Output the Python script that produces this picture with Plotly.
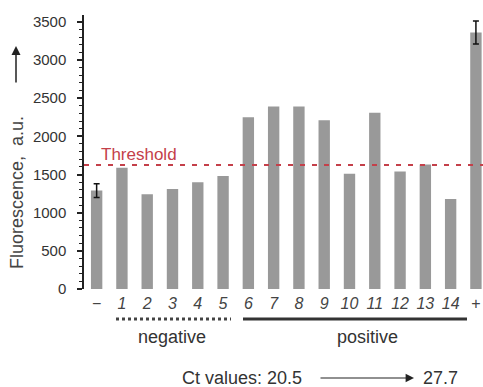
import plotly.graph_objects as go

categories = ["−", "1", "2", "3", "4", "5", "6", "7", "8", "9", "10", "11", "12", "13", "14", "+"]
values = [1290, 1590, 1240, 1310, 1400, 1480, 2250, 2390, 2390, 2210, 1510, 2310, 1540, 1630, 1180, 3360]
errors = [90, None, None, None, None, None, None, None, None, None, None, None, None, None, None, 150]
threshold = 1625
y_ticks = [0, 500, 1000, 1500, 2000, 2500, 3000, 3500]

W, H = 483, 387
# plot area in window pixels
X0, X1, Y0, Y1 = 84, 483, 15, 289
L, R, T, B = X0, W - X1, Y0, H - Y1
PW, PH = X1 - X0, Y1 - Y0

def px(x):
    return (x - X0) / PW

def py(y):
    return (Y1 - y) / PH

font = "Liberation Sans, Arial, sans-serif"
idx = list(range(len(categories)))

fig = go.Figure()
fig.add_trace(go.Bar(
    x=idx, y=values, width=0.45,
    marker=dict(color="#999999", line=dict(width=0)),
    showlegend=False, hoverinfo="skip",
))
err_i = [i for i, e in enumerate(errors) if e is not None]
fig.add_trace(go.Scatter(
    x=err_i, y=[values[i] for i in err_i], mode="markers",
    marker=dict(size=1, color="rgba(0,0,0,0)"),
    error_y=dict(type="data", array=[errors[i] for i in err_i], visible=True,
                 color="#111111", thickness=1.5, width=3),
    showlegend=False,
))
fig.add_shape(type="line", xref="paper", yref="y", x0=0, x1=1, y0=threshold, y1=threshold,
              line=dict(color="#c4404a", width=2, dash="5px,7px"))
fig.add_annotation(xref="paper", yref="y", x=px(99), y=threshold, text="Threshold",
                   showarrow=False, xanchor="left", yanchor="bottom", yshift=-1,
                   font=dict(family=font, size=17, color="#c4404a"))

# y title and arrow
fig.add_annotation(xref="paper", yref="paper", x=px(17), y=py(193), text="Fluorescence,  a.u.",
                   textangle=-90, showarrow=False, xanchor="center", yanchor="middle",
                   font=dict(family=font, size=18, color="#444444"))
fig.add_annotation(xref="paper", yref="paper", x=px(16), y=py(46), ax=0, ay=38,
                   axref="pixel", ayref="pixel", text="", showarrow=True,
                   arrowhead=2, arrowsize=1.2, arrowwidth=1.5, arrowcolor="#222222")

# group lines
fig.add_shape(type="line", xref="paper", yref="paper", x0=px(116), x1=px(231), y0=py(319), y1=py(319),
              line=dict(color="#444444", width=3, dash="dot"))
fig.add_shape(type="line", xref="paper", yref="paper", x0=px(243), x1=px(467), y0=py(319), y1=py(319),
              line=dict(color="#333333", width=3))
fig.add_annotation(xref="paper", yref="paper", x=px(172), y=py(337), text="negative", showarrow=False,
                   xanchor="center", yanchor="middle",
                   font=dict(family=font, size=18, color="#333333"))
fig.add_annotation(xref="paper", yref="paper", x=px(367), y=py(337), text="positive", showarrow=False,
                   xanchor="center", yanchor="middle",
                   font=dict(family=font, size=18, color="#333333"))

# Ct values
fig.add_annotation(xref="paper", yref="paper", x=px(304), y=py(378), text="Ct values: 20.5",
                   showarrow=False, xanchor="right", yanchor="middle",
                   font=dict(family=font, size=18, color="#333333"))
fig.add_annotation(xref="paper", yref="paper", x=px(414), y=py(378), ax=-95, ay=0,
                   axref="pixel", ayref="pixel", text="", showarrow=True,
                   arrowhead=2, arrowsize=1.4, arrowwidth=1.2, arrowcolor="#222222")
fig.add_annotation(xref="paper", yref="paper", x=px(421), y=py(378), text="27.7",
                   showarrow=False, xanchor="left", yanchor="middle",
                   font=dict(family=font, size=18, color="#333333"))

fig.update_layout(
    width=W, height=H,
    margin=dict(l=L, r=R, t=T, b=B, autoexpand=False),
    paper_bgcolor="white", plot_bgcolor="white",
    font=dict(family=font),
    xaxis=dict(
        tickmode="array", tickvals=idx,
        ticktext=[c if c in ("−", "+") else f"<i>{c}</i>" for c in categories],
        range=[-0.5, 15.28], showline=False, showgrid=False, zeroline=False, ticks="",
        ticklabelstandoff=3,
        tickfont=dict(family=font, size=16, color="#444444"), automargin=False,
    ),
    yaxis=dict(
        range=[0, 3590], tickvals=y_ticks, showgrid=False, zeroline=False,
        showline=True, linecolor="#222222", linewidth=1.5,
        ticks="outside", ticklen=5, tickwidth=1.5, tickcolor="#222222",
        ticklabelstandoff=8, automargin=False,
        minor=dict(dtick=100, ticks="outside", ticklen=3, tickwidth=1, tickcolor="#222222"),
        tickfont=dict(family=font, size=15, color="#333333"),
    ),
)
fig.write_html(
    "out.html",
    config={"displayModeBar": False},
    post_script="document.body.style.margin='0';document.documentElement.style.overflow='hidden';document.body.style.overflow='hidden';",
)
